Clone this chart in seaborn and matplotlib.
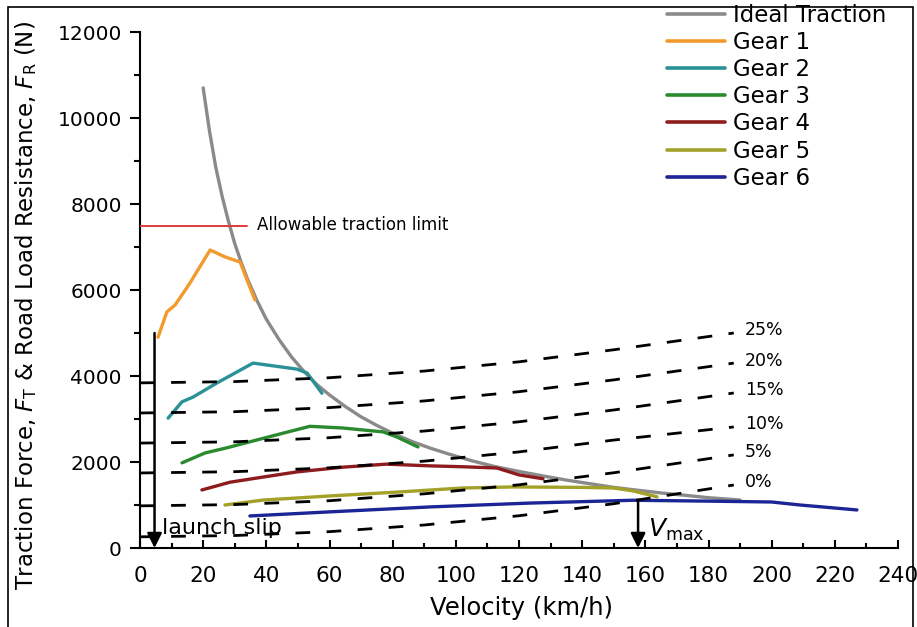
import matplotlib
matplotlib.use("Agg")
import matplotlib.pyplot as plt
import seaborn as sns
import numpy as np
import pandas as pd
from matplotlib.patches import Rectangle
from matplotlib.ticker import MultipleLocator

# ideal traction hyperbola
ideal_v = [20, 22, 24, 26, 28, 30, 32, 34, 37, 40, 44, 48, 52, 56, 60, 65, 70, 75, 80,
           86, 92, 98, 105, 112, 120, 128, 135, 142, 150, 158, 165, 172, 180, 190]
ideal_f = [10700, 9700, 8850, 8180, 7600, 7080, 6650, 6260, 5760, 5320, 4850, 4440,
           4100, 3800, 3560, 3290, 3050, 2850, 2670, 2480, 2320, 2180, 2030, 1900,
           1780, 1670, 1580, 1500, 1410, 1340, 1280, 1230, 1170, 1115]

# gear traction curves
gear1_v = [5.7, 8.5, 11.1, 15.8, 22.2, 26.9, 31.7, 33.9, 36.4]
gear1_f = [4900, 5490, 5650, 6160, 6930, 6770, 6650, 6230, 5770]
gear2_v = [8.9, 13.3, 16.8, 24.4, 35.8, 49.7, 52.9, 57.6]
gear2_f = [3020, 3400, 3510, 3840, 4300, 4160, 4070, 3600]
gear3_v = [13.3, 20.6, 27.5, 34.8, 45.3, 53.8, 64.3, 77, 81.4, 88]
gear3_f = [1980, 2210, 2330, 2470, 2670, 2830, 2790, 2700, 2580, 2350]
gear4_v = [19.6, 28.5, 39, 49.7, 64.3, 78, 91.8, 102, 113, 120, 127.6]
gear4_f = [1350, 1530, 1650, 1770, 1880, 1950, 1910, 1890, 1860, 1700, 1610]
gear5_v = [26.9, 39, 60, 81.4, 102, 118, 140, 150, 156, 163.7]
gear5_f = [1000, 1115, 1210, 1300, 1395, 1420, 1410, 1395, 1330, 1190]
gear6_v = [34.8, 60, 91.8, 123.5, 156, 180, 200, 209, 227]
gear6_f = [745, 840, 955, 1045, 1110, 1090, 1070, 1000, 885]

gear_labels = ["Gear 1", "Gear 2", "Gear 3", "Gear 4", "Gear 5", "Gear 6"]

# road load resistance for each grade
grade_v = [0, 30, 60, 90, 120, 150, 188]
grade_0 = [260, 290, 380, 535, 750, 1030, 1465]
grade_5 = [980, 1010, 1100, 1260, 1470, 1750, 2165]
grade_10 = [1745, 1775, 1865, 2020, 2235, 2510, 2815]
grade_15 = [2440, 2470, 2565, 2720, 2935, 3210, 3605]
grade_20 = [3140, 3170, 3265, 3420, 3635, 3910, 4300]
grade_25 = [3840, 3870, 3960, 4115, 4330, 4610, 5000]
grade_labels = ["0%", "5%", "10%", "15%", "20%", "25%"]

limit_f = 7500
limit_v = [0, 34]
launch_v = 4.6
launch_f = 5000
vmax_v = 157.7
vmax_f = 1100

sns.set_style("ticks")
plt.rcParams["font.family"] = ["DejaVu Sans"]
plt.rcParams["mathtext.fontset"] = "dejavusans"
plt.rcParams["text.color"] = "black"
plt.rcParams["axes.labelcolor"] = "black"
plt.rcParams["axes.edgecolor"] = "black"
plt.rcParams["xtick.color"] = "black"
plt.rcParams["ytick.color"] = "black"

fig = plt.figure(figsize=(9.17, 6.27), dpi=100)
ax = fig.add_axes([140 / 917, 1 - 548 / 627, 758 / 917, 516 / 627])

gear_colors = ["#f39a2c", "#2a9297", "#2a8a2e", "#8e1b1e", "#a3a128", "#1c2596"]
gears = [(gear1_v, gear1_f), (gear2_v, gear2_f), (gear3_v, gear3_f),
         (gear4_v, gear4_f), (gear5_v, gear5_f), (gear6_v, gear6_f)]

# dashed grade lines
grades = [grade_0, grade_5, grade_10, grade_15, grade_20, grade_25]
for f, lab in zip(grades, grade_labels):
    sns.lineplot(x=grade_v, y=f, ax=ax, color="black", lw=2.0,
                 linestyle=(0, (5.3, 5.9)), sort=False, estimator=None, zorder=5)
    ax.text(grade_v[-1] + 3.5, f[-1] + 60, lab, fontsize=12.5, va="center", ha="left")

sns.lineplot(x=ideal_v, y=ideal_f, ax=ax, color="#8a8a8a", lw=2.4,
             sort=False, estimator=None, label="Ideal Traction", zorder=3)
for (v, f), c, lab in zip(gears, gear_colors, gear_labels):
    sns.lineplot(x=v, y=f, ax=ax, color=c, lw=2.4, sort=False,
                 estimator=None, label=lab, zorder=4)

# allowable traction limit
ax.plot(limit_v, [limit_f, limit_f], color="#e0393a", lw=1.4, zorder=4)
ax.text(limit_v[1] + 3, limit_f, "Allowable traction limit", fontsize=12,
        va="center", ha="left")

# launch slip / vmax arrows
arrow = dict(arrowstyle="-|>", lw=1.8, color="black", mutation_scale=22,
             shrinkA=0, shrinkB=0)
ax.annotate("", xy=(launch_v, 0), xytext=(launch_v, launch_f), arrowprops=arrow, zorder=6)
ax.text(launch_v + 2.5, 470, "launch slip", fontsize=16, va="center", ha="left")
ax.annotate("", xy=(vmax_v, 0), xytext=(vmax_v, vmax_f), arrowprops=arrow, zorder=6)
ax.text(vmax_v + 3, 420, r"$V_{\rm max}$", fontsize=18, va="center", ha="left")

ax.set_xlim(0, 240)
ax.set_ylim(0, 12000)
ax.xaxis.set_major_locator(MultipleLocator(20))
ax.xaxis.set_minor_locator(MultipleLocator(10))
ax.yaxis.set_major_locator(MultipleLocator(2000))
ax.yaxis.set_minor_locator(MultipleLocator(1000))
ax.tick_params(axis="x", which="major", direction="in", length=6, width=1.5,
               labelsize=15.5, pad=13)
ax.tick_params(axis="x", which="minor", direction="in", length=3.5, width=1.5)
ax.tick_params(axis="y", which="major", direction="out", length=7, width=1.5,
               labelsize=14.5, pad=6)
ax.tick_params(axis="y", which="minor", direction="out", length=4.5, width=1.5)
for s in ["top", "right"]:
    ax.spines[s].set_visible(False)
for s in ["left", "bottom"]:
    ax.spines[s].set_linewidth(1.5)

ax.set_xlabel("Velocity (km/h)", fontsize=17.5)
ax.set_ylabel(r"Traction Force, $F_{\rm T}$ & Road Load Resistance, $F_{\rm R}$ (N)",
              fontsize=16.5)
ax.xaxis.set_label_coords(0.503, -0.093)
ax.yaxis.set_label_coords(-0.133, 0.47)

leg = ax.legend(loc="upper left", bbox_to_anchor=(667 / 917, 1 - 4 / 627),
                bbox_transform=fig.transFigure, frameon=False, fontsize=16.5,
                handlelength=2.55, handletextpad=0.35, labelspacing=0.18,
                borderaxespad=0, borderpad=0)
for h in leg.get_lines():
    h.set_linewidth(2.6)

fig.patches.append(Rectangle((8 / 917, -0.05), 905 / 917, 1.05 - 7 / 627,
                             transform=fig.transFigure, fill=False,
                             edgecolor="black", lw=1.2))

fig.savefig("out.png", dpi=100)
